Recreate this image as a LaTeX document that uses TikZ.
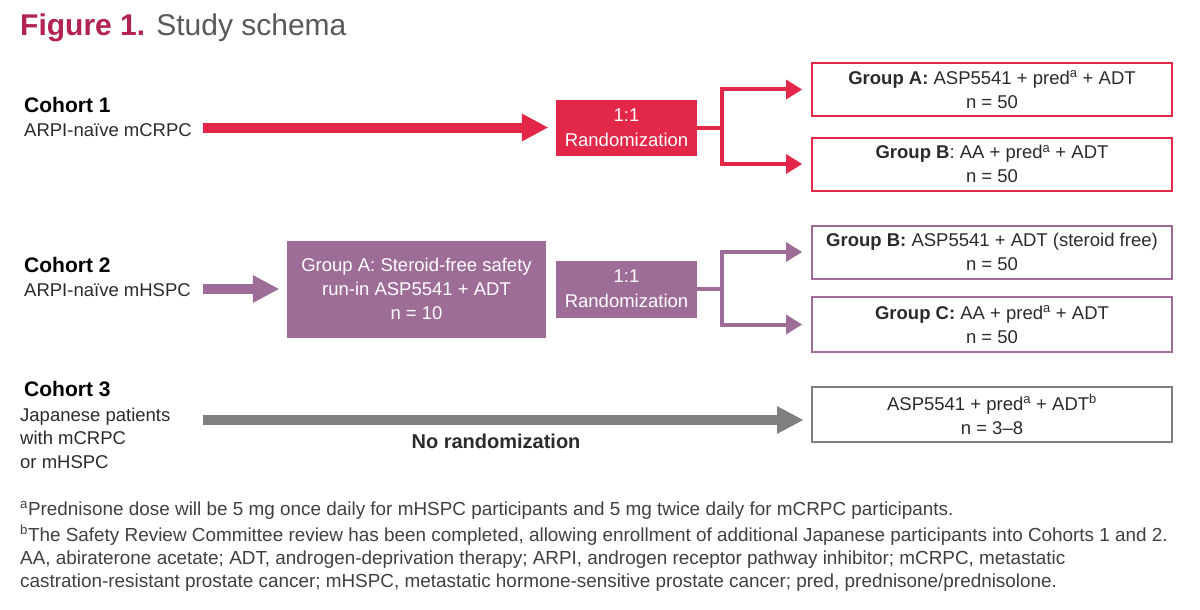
\documentclass[tikz,border=0pt]{standalone}
\usepackage{fontspec}
\setmainfont{Liberation Sans}
\usetikzlibrary{arrows.meta}
\definecolor{cred}{HTML}{E32749}
\definecolor{cmaroon}{HTML}{B2234F}
\definecolor{cpurple}{HTML}{9D6C97}
\definecolor{cgray}{HTML}{7F7F7F}
\definecolor{txt}{HTML}{2B2B2B}
\definecolor{ctitle}{HTML}{595959}
\definecolor{cfoot}{HTML}{404040}
\tikzset{
  lbl/.style={inner sep=0pt, anchor=base west, text=txt, font=\fontsize{18.5}{22}\selectfont},
  cohort/.style={inner sep=0pt, anchor=base west, text=black, font=\fontsize{21}{25}\selectfont\bfseries},
  randbox/.style={minimum width=141pt, minimum height=56pt, inner sep=0pt, align=center, text=white, font=\fontsize{18.5}{25}\selectfont},
  grpbox/.style={draw, line width=2pt, minimum width=360pt, minimum height=53pt, inner sep=0pt, align=center, text=txt, font=\fontsize{18.5}{24}\selectfont},
  fat/.style={line width=10pt, -{Triangle[length=26pt,width=28pt,line width=0pt]}, shorten >=8pt},
  branch/.style={line width=4pt, -{Triangle[length=16pt,width=20pt,line width=0pt]}, shorten >=9pt},
  foot/.style={inner sep=0pt, anchor=base west, text=cfoot, font=\fontsize{18.9}{23}\selectfont},
}
\begin{document}
\begin{tikzpicture}[x=1pt,y=-1pt]
\useasboundingbox (0,0) rectangle (1200,610);
\fill[white] (0,0) rectangle (1200,610);
% title
\node[inner sep=0pt, anchor=base west, font=\fontsize{30}{34}\selectfont] (title) at (20,36)
  {\textcolor{cmaroon}{\bfseries Figure 1.} \textcolor{ctitle}{Study schema}};
% ---- Cohort 1
\node[cohort] (c1) at (24,112) {Cohort 1};
\node[lbl] (c1s) at (24,136) {ARPI-naïve mCRPC};
\node[randbox, fill=cred] (r1) at (626.5,127.5) {1:1\\Randomization};
\coordinate (a1) at (203,127.5);
\node[grpbox, draw=cred] (g1a) at (992,89.5) {\textbf{Group A:} ASP5541 + pred\textsuperscript{a} + ADT\\n = 50};
\node[grpbox, draw=cred] (g1b) at (992,164) {\textbf{Group B}: AA + pred\textsuperscript{a} + ADT\\n = 50};
\coordinate (j1) at (722,127.5);
\draw[fat, cred] (a1) -- (a1 -| r1.west);
\draw[line width=4pt, cred] (r1.east) -- (j1);
\draw[branch, cred] (j1) |- (g1a.west);
\draw[branch, cred] (j1) |- (g1b.west);
% ---- Cohort 2
\node[cohort] (c2) at (24,272) {Cohort 2};
\node[lbl] (c2s) at (24,296) {ARPI-naïve mHSPC};
\node[fill=cpurple, minimum width=259pt, minimum height=97pt, inner sep=0pt, align=center, text=white,
  font=\fontsize{18.5}{24}\selectfont] (g2a) at (416.5,289) {Group A: Steroid-free safety\\run-in ASP5541 + ADT\\n = 10};
\coordinate (a2) at (203,289);
\node[randbox, fill=cpurple, minimum height=57pt] (r2) at (626.5,289) {1:1\\Randomization};
\node[grpbox, draw=cpurple] (g2b) at (992,252) {\textbf{Group B:} ASP5541 + ADT (steroid free)\\n = 50};
\node[grpbox, draw=cpurple, minimum height=55pt] (g2c) at (992,324.5) {\textbf{Group C:} AA + pred\textsuperscript{a} + ADT\\n = 50};
\coordinate (j2) at (722,289);
\draw[fat, cpurple] (a2) -- (a2 -| g2a.west);
\draw[line width=4pt, cpurple] (r2.east) -- (j2);
\draw[branch, cpurple] (j2) |- (g2b.west);
\draw[branch, cpurple] (j2) |- (g2c.west);
% ---- Cohort 3
\node[cohort] (c3) at (24,396) {Cohort 3};
\node[lbl] (c3s) at (20,421) {Japanese patients};
\node[lbl] (c3t) at (20,444.5) {with mCRPC};
\node[lbl] (c3u) at (20,468) {or mHSPC};
\node[grpbox, draw=cgray, minimum height=55pt] (g3) at (992,414.5) {ASP5541 + pred\textsuperscript{a} + ADT\textsuperscript{b}\\n = 3--8};
\coordinate (a3) at (203,420);
\draw[fat, cgray] (a3) -- (a3 -| g3.west);
\node[inner sep=0pt, text=txt, font=\fontsize{20}{24}\selectfont\bfseries] (nr) at (496,441) {No randomization};
% ---- footnotes
\node[foot] (f1) at (20,515) {\textsuperscript{a}Prednisone dose will be 5 mg once daily for mHSPC participants and 5 mg twice daily for mCRPC participants.};
\node[foot] (f2) at (20,541) {\textsuperscript{b}The Safety Review Committee review has been completed, allowing enrollment of additional Japanese participants into Cohorts 1 and 2.};
\node[foot] (f3) at (20,564) {AA, abiraterone acetate; ADT, androgen-deprivation therapy; ARPI, androgen receptor pathway inhibitor; mCRPC, metastatic};
\node[foot] (f4) at (20,587) {castration-resistant prostate cancer; mHSPC, metastatic hormone-sensitive prostate cancer; pred, prednisone/prednisolone.};
\end{tikzpicture}
\end{document}
